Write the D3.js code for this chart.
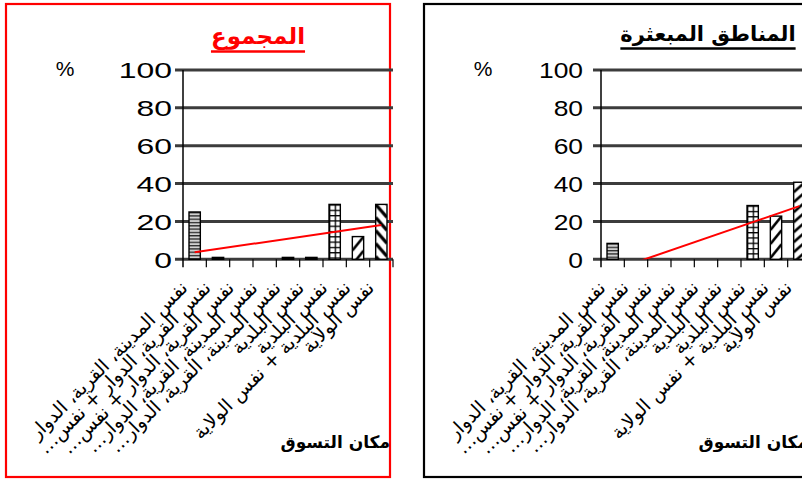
<!DOCTYPE html>
<html><head><meta charset="utf-8">
<script src="https://cdn.jsdelivr.net/npm/d3@7"></script>
<style>
html,body{margin:0;padding:0;background:#fff;overflow:hidden}
svg{display:block}
</style></head><body>
<svg id="chart" width="802" height="479"></svg>
<script>
// Shopping place categories (x axis); long names are shortened with an ellipsis to fit
const categories = [
  "نفس المدينة، القرية، الدوار",
  "نفس القرية، الدوار + نفس المدينة",
  "نفس القرية، الدوار + نفس البلدية",
  "نفس المدينة، القرية، الدوار + نفس البلدية",
  "نفس المدينة، القرية، الدوار + نفس الولاية",
  "نفس البلدية",
  "نفس البلدية",
  "نفس البلدية + نفس الولاية",
  "نفس الولاية"
];
// Percentages per category
const totalValues = [25, 1, 0, 0, 1, 1, 29, 12, 29];
const scatteredValues = [8.4, 0, 0, 0, 0, 0, 28.4, 22.8, 40.7];
const yTicks = [0, 20, 40, 60, 80, 100];
const panelTitles = ["المجموع", "المناطق المبعثرة"];
const axisTitle = "مكان التسوق";
const unitLabel = "%";

const svg = d3.select("#chart");
const defs = svg.append("defs");

const panels = [
  { values: totalValues, title: panelTitles[0], x0: 183, x1: 393, border: [6, 4, 384, 473], borderColor: "#ff0000",
    titleColor: "#ff0000", titleX: 258, titleY: 44, underY: 51.5, titleSize: 23, stretch: 1.45, gap: 11, unitX: 65,
    axisTitleX: 390, last: "back" },
  { values: scatteredValues, title: panelTitles[1], x0: 601, x1: 811, border: [424, 4, 420, 473], borderColor: "#000",
    titleColor: "#000", titleX: 708, titleY: 41, underY: 48.5, titleSize: 21, stretch: 1.2, gap: 18, unitX: 483,
    axisTitleX: 808, last: "fwdDense" }
];

const fills = ["hstripe", "solid", "solid", "solid", "solid", "solid", "grid", "fwd", null];
const labelTop = 289, labelBottom = 458;

function makePattern(id, kind, bx, by, bw) {
  const p = defs.append("pattern").attr("id", id).attr("patternUnits", "userSpaceOnUse");
  if (kind === "hstripe") {
    p.attr("x", bx).attr("y", by).attr("width", bw).attr("height", 3.3);
    p.append("rect").attr("width", bw).attr("height", 3.3).attr("fill", "#d0d0d0");
    p.append("rect").attr("width", bw).attr("height", 1.3).attr("fill", "#2a2a2a");
  } else if (kind === "grid") {
    p.attr("x", bx).attr("y", by).attr("width", bw / 2).attr("height", 5.3);
    p.append("rect").attr("width", bw / 2).attr("height", 5.3).attr("fill", "#fff");
    p.append("rect").attr("width", bw / 2).attr("height", 1.3).attr("fill", "#000");
    p.append("rect").attr("width", 1.3).attr("height", 5.3).attr("fill", "#000");
  } else if (kind === "fwd" || kind === "fwdDense" || kind === "back") {
    const h = kind === "fwd" ? 14 : kind === "fwdDense" ? 10 : 13;
    p.attr("x", bx).attr("y", by).attr("width", bw).attr("height", h);
    p.append("rect").attr("width", bw).attr("height", h).attr("fill", "#fff");
    const g = p.append("g").attr("stroke", "#000").attr("stroke-width", kind === "back" ? 3.2 : 2.6);
    [-h, 0, h].forEach(o => {
      if (kind === "back") g.append("line").attr("x1", 0).attr("y1", o).attr("x2", bw).attr("y2", o + h);
      else g.append("line").attr("x1", 0).attr("y1", o + h).attr("x2", bw).attr("y2", o);
    });
  }
  return `url(#${id})`;
}

// shorten a label with an ellipsis until it fits the given length
function fitText(node, full, maxLen) {
  node.textContent = full;
  if (node.getComputedTextLength() <= maxLen) return;
  let s = full;
  while (s.length > 1) {
    s = s.slice(0, -1);
    node.textContent = s.trimEnd() + "…";
    if (node.getComputedTextLength() <= maxLen) return;
  }
}

panels.forEach((cfg, pi) => {
  const g = svg.append("g");
  const x = d3.scaleBand().domain(d3.range(categories.length)).range([cfg.x0, cfg.x1])
    .paddingInner(0.515).paddingOuter(0.2575);
  const y = d3.scaleLinear().domain([0, 100]).range([259.3, 70]);
  const bw = x.bandwidth();

  // frame
  const [bx, by, bwid, bh] = cfg.border;
  g.append("rect").attr("x", bx).attr("y", by).attr("width", bwid).attr("height", bh)
    .attr("fill", "none").attr("stroke", cfg.borderColor).attr("stroke-width", 2.2);

  // title with underline
  const t = g.append("text").attr("x", cfg.titleX).attr("y", cfg.titleY)
    .attr("text-anchor", "middle").attr("font-family", "DejaVu Sans").attr("font-weight", "bold")
    .attr("font-size", cfg.titleSize).attr("fill", cfg.titleColor).text(cfg.title);
  const tw = t.node().getComputedTextLength();
  g.append("line").attr("x1", cfg.titleX - tw / 2).attr("x2", cfg.titleX + tw / 2)
    .attr("y1", cfg.underY).attr("y2", cfg.underY).attr("stroke", cfg.titleColor).attr("stroke-width", 2.6);

  // unit label
  g.append("text").attr("x", cfg.unitX).attr("y", 76).attr("text-anchor", "middle")
    .attr("font-family", "Liberation Sans, Arial").attr("font-size", 21).text(unitLabel);

  // horizontal gridlines (with outside tick stubs)
  g.append("g").selectAll("line").data(yTicks).join("line")
    .attr("x1", cfg.x0 - 8).attr("x2", cfg.x1)
    .attr("y1", d => y(d)).attr("y2", d => y(d))
    .attr("stroke", "#3c3c3c").attr("stroke-width", 3);

  // y axis labels
  const axg = g.append("g").attr("transform", `translate(${cfg.x0},0)`)
    .call(d3.axisLeft(y).tickValues(yTicks).tickSize(0).tickPadding(cfg.gap));
  axg.select(".domain").remove();
  axg.selectAll("text")
    .attr("font-family", "Liberation Sans, Arial").attr("font-size", 22).attr("fill", "#000")
    .attr("x", -cfg.gap / cfg.stretch).attr("dy", "0.36em")
    .attr("transform", `scale(${cfg.stretch},1)`);

  // y axis line
  g.append("line").attr("x1", cfg.x0).attr("x2", cfg.x0).attr("y1", y(100)).attr("y2", y(0) + 8)
    .attr("stroke", "#000").attr("stroke-width", 1.5);

  // category boundary ticks
  g.append("g").selectAll("line").data(d3.range(1, categories.length + 1)).join("line")
    .attr("x1", i => x.range()[0] + i * x.step()).attr("x2", i => x.range()[0] + i * x.step())
    .attr("y1", y(0)).attr("y2", y(0) + 8).attr("stroke", "#000").attr("stroke-width", 1.2);

  // bars
  g.append("g").selectAll("rect").data(cfg.values.map((v, i) => ({ v, i })).filter(d => d.v > 0)).join("rect")
    .attr("x", d => x(d.i)).attr("width", bw)
    .attr("y", d => y(d.v)).attr("height", d => y(0) - y(d.v))
    .attr("stroke", "#000").attr("stroke-width", 1.4)
    .attr("fill", d => {
      const kind = d.i === categories.length - 1 ? cfg.last : fills[d.i];
      if (kind === "solid") return "#000";
      return makePattern(`p${pi}_${d.i}`, kind, x(d.i), y(d.v), bw);
    });

  // linear trend line
  const n = cfg.values.length;
  const xs = d3.range(1, n + 1);
  const mx = d3.mean(xs), my = d3.mean(cfg.values);
  const slope = d3.sum(xs, (k, j) => (k - mx) * (cfg.values[j] - my)) / d3.sum(xs, k => (k - mx) ** 2);
  const icpt = my - slope * mx;
  const clipId = `clip${pi}`;
  defs.append("clipPath").attr("id", clipId).append("rect")
    .attr("x", cfg.x0).attr("y", y(100)).attr("width", cfg.x1 - cfg.x0).attr("height", y(0) - y(100));
  g.append("line").attr("clip-path", `url(#${clipId})`)
    .attr("x1", x(0) + bw / 2).attr("y1", y(icpt + slope * 1))
    .attr("x2", x(n - 1) + bw / 2).attr("y2", y(icpt + slope * n))
    .attr("stroke", "#ff0000").attr("stroke-width", 2);

  // rotated category labels
  g.append("g").selectAll("text").data(categories).join("text")
    .attr("transform", (d, i) => `translate(${x(i) + bw / 2 - 6},${labelTop}) rotate(-45)`)
    .attr("direction", "rtl").attr("text-anchor", "start")
    .attr("font-family", "DejaVu Sans").attr("font-size", 19)
    .each(function (d) { fitText(this, d, (labelBottom - labelTop) * Math.SQRT2); });

  // axis title
  g.append("text").attr("x", cfg.axisTitleX).attr("y", 448).attr("direction", "rtl").attr("text-anchor", "start")
    .attr("font-family", "DejaVu Sans").attr("font-weight", "bold").attr("font-size", 17).text(axisTitle);
});
</script>
</body></html>
